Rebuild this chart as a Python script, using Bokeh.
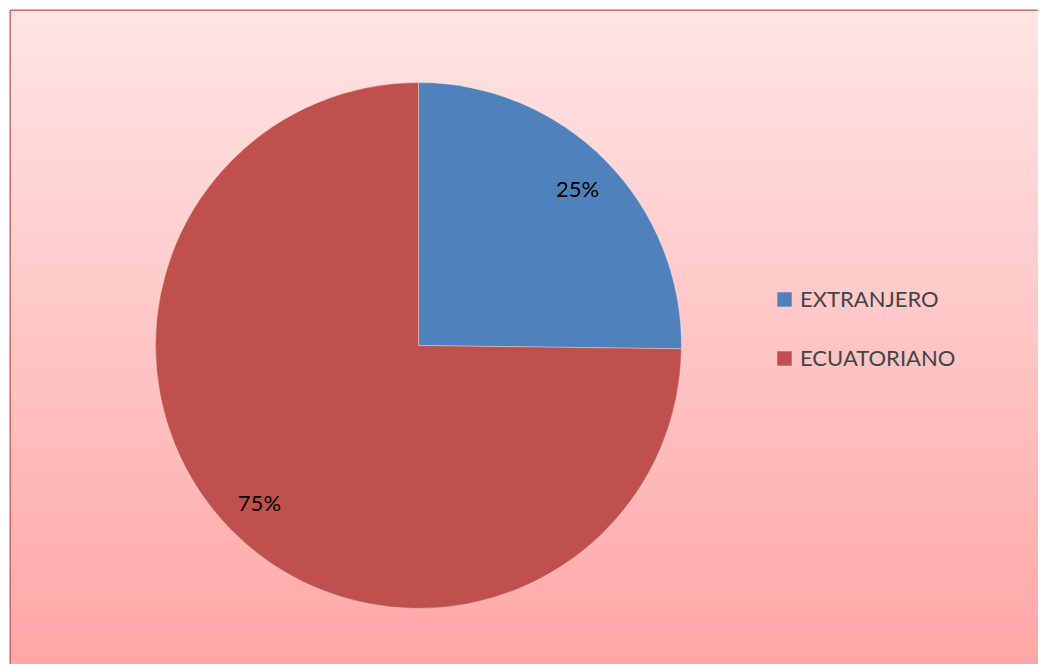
import numpy as np
from bokeh.plotting import figure
from bokeh.models import ColumnDataSource, Range1d, Legend, LegendItem
from bokeh.core.properties import value
from bokeh.embed import file_html
from bokeh.resources import INLINE

# ---- data ----
categories = ["EXTRANJERO", "ECUATORIANO"]
values = [25.2, 74.8]
labels = ["25%", "75%"]
colors = ["#4F81BD", "#C0504D"]

# ---- layout (pixel units) ----
W, H = 1038, 664
ML, MT = 10, 10
FW, FH = W - ML, H - MT
cx, cy, R = 408, 319, 263
FONT = "Lato"

p = figure(width=W, height=H, output_backend="svg", toolbar_location=None,
           x_range=Range1d(0, FW), y_range=Range1d(0, FH),
           min_border_left=ML, min_border_top=MT, min_border_right=0, min_border_bottom=0)
p.axis.visible = False
p.grid.visible = False
p.outline_line_color = "#C9504E"
p.outline_line_width = 2
p.background_fill_color = "#FFCFCF"
p.border_fill_color = "white"

# vertical gradient background
n = 256
t = np.linspace(0, 1, n)  # 0 bottom -> 1 top
top = np.array([255, 229, 229])
bot = np.array([255, 167, 167])
rgb = (bot[None, :] * (1 - t[:, None]) + top[None, :] * t[:, None]).astype(np.uint32)
img = np.zeros((n, 1), dtype=np.uint32)
view = img.view(dtype=np.uint8).reshape((n, 1, 4))
view[:, 0, 0] = rgb[:, 0]
view[:, 0, 1] = rgb[:, 1]
view[:, 0, 2] = rgb[:, 2]
view[:, 0, 3] = 255
p.image_rgba(image=[img], x=0, y=0, dw=FW, dh=FH)

# wedge angles: start at 12 o'clock, clockwise
frac = np.array(values) / sum(values)
cum = np.concatenate([[0], np.cumsum(frac)])
ends = np.pi / 2 - 2 * np.pi * cum[:-1]
starts = np.pi / 2 - 2 * np.pi * cum[1:]
mids = (starts + ends) / 2

src = ColumnDataSource(dict(cat=categories, start=starts, end=ends, color=colors,
                            lx=cx + 0.85 * R * np.cos(mids), ly=cy + 0.85 * R * np.sin(mids),
                            lab=labels))

for i in range(len(categories)):
    p.wedge(x=cx, y=cy, radius=R, start_angle=starts[i], end_angle=ends[i],
            fill_color=colors[i], line_color="white", line_alpha=0.4, line_width=0.8)

# legend swatches (area glyphs with no visible geometry)
swatches = [p.quad(left=[np.nan], right=[np.nan], top=[np.nan], bottom=[np.nan],
                   fill_color=colors[i], line_color=None) for i in range(len(categories))]

p.text(x="lx", y="ly", text="lab", source=src, text_align="center", text_baseline="middle",
       text_font=value(FONT), text_font_size="22px", text_color="black")

legend = Legend(items=[LegendItem(label=categories[i], renderers=[swatches[i]]) for i in range(len(categories))],
                location=(765, 293), glyph_width=18, glyph_height=18, label_height=14,
                label_standoff=7, spacing=32, padding=0, margin=0,
                label_text_font=FONT, label_text_font_size="22px",
                background_fill_alpha=0, border_line_alpha=0)
p.add_layout(legend)

open("out.html", "w").write(file_html(p, INLINE))
